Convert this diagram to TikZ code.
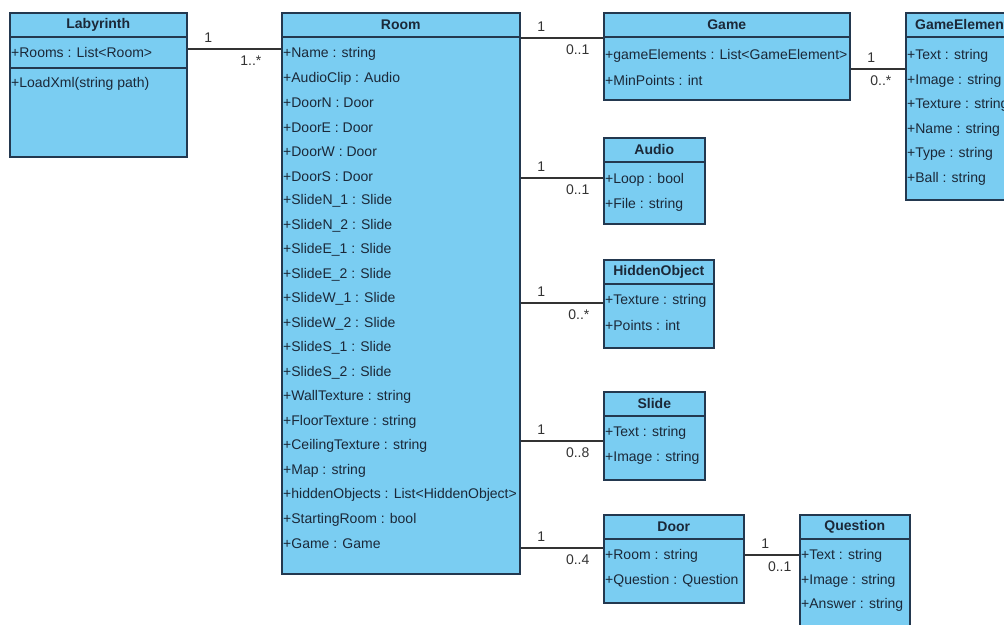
\documentclass[tikz,border=0pt]{standalone}
\usepackage{fontspec}
\setmainfont{Liberation Sans}
\usepackage{xcolor}
\usepackage{tikz}
\usetikzlibrary{positioning,calc}
\definecolor{umlfill}{HTML}{7ACDF2}
\definecolor{umledge}{HTML}{23384F}
\definecolor{umltext}{HTML}{1B2838}
\definecolor{linkgray}{HTML}{333333}

\begin{document}
\begin{tikzpicture}[
  x=1pt, y=-1pt,
  classbox/.style={draw=umledge, fill=umlfill, line width=1.6pt, anchor=north west, inner sep=0pt},
  classhead/.style={draw=umledge, line width=1.6pt, anchor=north, minimum height=24pt, inner sep=0pt, font=\fontsize{14}{16}\selectfont\bfseries, text=umltext},
  attr/.style={anchor=west, inner sep=1pt, font=\fontsize{14}{16}\selectfont, text=umltext},
  link/.style={draw=linkgray, line width=1.3pt},
  mult/.style={inner sep=1pt, font=\fontsize{14}{16}\selectfont, text=linkgray},
  srcmult/.style={mult, anchor=south west, xshift=15pt, yshift=5pt},
  dstmult/.style={mult, anchor=north east, xshift=-12pt, yshift=-5pt},
]
\useasboundingbox (0,0) rectangle (1004,624);
\clip (0,0) rectangle (1004,624);
\fill[white] (0,0) rectangle (1004,624);

% classes
\node[classbox, minimum width=177pt, minimum height=144pt] (labyrinth) at (9,12) {};
\node[classhead, minimum width=177pt] (labyrinth-h) at (labyrinth.north) {Labyrinth};
\node[attr] (labyrinth-a0) at ([xshift=1pt, yshift=-40pt]labyrinth.north west) {+Rooms : List<Room>};
\draw[umledge, line width=1.6pt] ([yshift=-56pt]labyrinth.north west) -- ([yshift=-56pt]labyrinth.north east);
\node[attr] (labyrinth-o0) at ([xshift=1pt, yshift=-72pt]labyrinth.north west) {+LoadXml(string path)};

\node[classbox, minimum width=238pt, minimum height=561pt] (room) at (281,12) {};
\node[classhead, minimum width=238pt] (room-h) at (room.north) {Room};
\foreach \t [count=\i from 0] in {+Name : string, +AudioClip : Audio, +DoorN : Door, +DoorE : Door,
  +DoorW : Door, +DoorS : Door, +SlideN\_1 : Slide, +SlideN\_2 : Slide, +SlideE\_1 : Slide,
  +SlideE\_2 : Slide, +SlideW\_1 : Slide, +SlideW\_2 : Slide, +SlideS\_1 : Slide, +SlideS\_2 : Slide,
  +WallTexture : string, +FloorTexture : string, +CeilingTexture : string, +Map : string,
  +hiddenObjects : List<HiddenObject>, +StartingRoom : bool, +Game : Game}
  \node[attr] (room-a\i) at ([xshift=1pt, yshift={-42pt-24.5pt*\i}]room.north west) {\t};

\node[classbox, minimum width=246pt, minimum height=87pt] (game) at (603,12) {};
\node[classhead, minimum width=246pt] (game-h) at (game.north) {Game};
\foreach \t [count=\i from 0] in {+gameElements : List<GameElement>, +MinPoints : int}
  \node[attr] (game-a\i) at ([xshift=1pt, yshift={-44pt-24.5pt*\i}]game.north west) {\t};

\node[classbox, minimum width=112pt, minimum height=187pt] (element) at (905,12) {};
\node[classhead, minimum width=112pt] (element-h) at (element.north) {GameElement};
\foreach \t [count=\i from 0] in {+Text : string, +Image : string, +Texture : string,
  +Name : string, +Type : string, +Ball : string}
  \node[attr] (element-a\i) at ([xshift=1pt, yshift={-44pt-24.5pt*\i}]element.north west) {\t};

\node[classbox, minimum width=101pt, minimum height=86pt] (audio) at (603,137) {};
\node[classhead, minimum width=101pt] (audio-h) at (audio.north) {Audio};
\foreach \t [count=\i from 0] in {+Loop : bool, +File : string}
  \node[attr] (audio-a\i) at ([xshift=1pt, yshift={-43pt-24.5pt*\i}]audio.north west) {\t};

\node[classbox, minimum width=110pt, minimum height=88pt] (hidden) at (603,259) {};
\node[classhead, minimum width=110pt] (hidden-h) at (hidden.north) {HiddenObject};
\foreach \t [count=\i from 0] in {+Texture : string, +Points : int}
  \node[attr] (hidden-a\i) at ([xshift=1pt, yshift={-42pt-24.5pt*\i}]hidden.north west) {\t};

\node[classbox, minimum width=101pt, minimum height=88pt] (slide) at (603,391) {};
\node[classhead, minimum width=101pt] (slide-h) at (slide.north) {Slide};
\foreach \t [count=\i from 0] in {+Text : string, +Image : string}
  \node[attr] (slide-a\i) at ([xshift=1pt, yshift={-42pt-24.5pt*\i}]slide.north west) {\t};

\node[classbox, minimum width=140pt, minimum height=88pt] (door) at (603,514) {};
\node[classhead, minimum width=140pt] (door-h) at (door.north) {Door};
\foreach \t [count=\i from 0] in {+Room : string, +Question : Question}
  \node[attr] (door-a\i) at ([xshift=1pt, yshift={-42pt-24.5pt*\i}]door.north west) {\t};

\node[classbox, minimum width=110pt, minimum height=120pt] (question) at (799,514) {};
\node[classhead, minimum width=110pt] (question-h) at (question.north) {Question};
\foreach \t [count=\i from 0] in {+Text : string, +Image : string, +Answer : string}
  \node[attr] (question-a\i) at ([xshift=1pt, yshift={-42pt-24.5pt*\i}]question.north west) {\t};

% associations
\coordinate (room-in) at ([yshift=-37pt]room.north west);
\coordinate (game-in) at ([yshift=-26pt]game.north west);
\coordinate (element-in) at ([yshift=-57pt]element.north west);
\coordinate (audio-in) at ([yshift=-41pt]audio.north west);
\coordinate (hidden-in) at ([yshift=-44pt]hidden.north west);
\coordinate (slide-in) at ([yshift=-50pt]slide.north west);
\coordinate (door-in) at ([yshift=-34pt]door.north west);
\coordinate (question-in) at ([yshift=-41pt]question.north west);

\draw[link] (labyrinth.east |- room-in) -- (room-in)
  node[srcmult, at start] {1} node[dstmult, at end, xshift=-6pt] {1..*};
\draw[link] (room.east |- game-in) -- (game-in)
  node[srcmult, at start] {1} node[dstmult, at end] {0..1};
\draw[link] (game.east |- element-in) -- (element-in)
  node[srcmult, at start] {1} node[dstmult, at end] {0..*};
\draw[link] (room.east |- audio-in) -- (audio-in)
  node[srcmult, at start] {1} node[dstmult, at end] {0..1};
\draw[link] (room.east |- hidden-in) -- (hidden-in)
  node[srcmult, at start] {1} node[dstmult, at end] {0..*};
\draw[link] (room.east |- slide-in) -- (slide-in)
  node[srcmult, at start] {1} node[dstmult, at end] {0..8};
\draw[link] (room.east |- door-in) -- (door-in)
  node[srcmult, at start] {1} node[dstmult, at end] {0..4};
\draw[link] (door.east |- question-in) -- (question-in)
  node[srcmult, at start] {1} node[dstmult, at end, xshift=6pt] {0..1};
\end{tikzpicture}
\end{document}
